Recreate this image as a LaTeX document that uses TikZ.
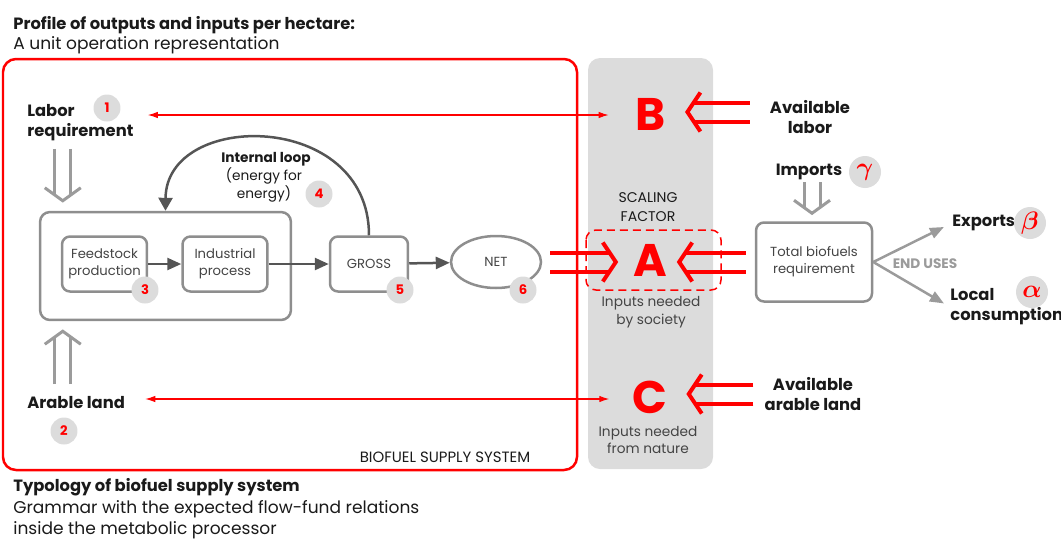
\documentclass[tikz,border=0pt]{standalone}
\usepackage{fontspec}
\setmainfont{Poppins}
\usetikzlibrary{arrows.meta,calc,shapes.geometric}
\definecolor{fr}{HTML}{FF0000}
\definecolor{edge}{HTML}{8E8E8E}
\definecolor{pale}{HTML}{DCDCDC}
\definecolor{flowgray}{HTML}{9B9B9B}
\definecolor{loopgray}{HTML}{555555}
\definecolor{ink}{HTML}{1A1A1A}
\definecolor{soft}{HTML}{444444}

\newcommand\twinflow[5]{%
  \draw[#1] ($(#2)!#4!90:(#3)$) -- ($(#3)!0.13cm!(#2)!#4!-90:(#2)$);
  \draw[#1] ($(#2)!#4!-90:(#3)$) -- ($(#3)!0.13cm!(#2)!#4!90:(#2)$);
  \draw[#1] ($(#3)!0.26cm!(#2)!#5!-90:(#2)$) -- (#3) -- ($(#3)!0.26cm!(#2)!#5!90:(#2)$);}

\begin{document}
\begin{tikzpicture}[x=0.02cm, y=-0.02cm,
  hd/.style={font=\fontsize{9.3}{11.4}\selectfont\bfseries, text=ink, inner sep=0},
  tx/.style={font=\fontsize{9.7}{11.4}\selectfont, text=ink, inner sep=0},
  sm/.style={font=\fontsize{7.8}{10.2}\selectfont, text=soft, inner sep=0, align=center},
  proc/.style={draw=edge, line width=0.05cm, rounded corners=0.16cm, inner sep=0, minimum width=1.7cm, minimum height=1.1cm, align=center, font=\fontsize{7.5}{9.8}\selectfont, text=soft},
  num/.style={circle, fill=pale, text=fr, inner sep=0, minimum size=0.54cm, font=\fontsize{7.5}{8}\selectfont\bfseries},
  grk/.style={circle, fill=pale, text=fr, inner sep=0, minimum size=0.64cm, font=\fontsize{15}{16}\selectfont\boldmath},
  big/.style={text=fr, inner sep=0, font=\fontsize{26}{26}\selectfont\bfseries},
  redlink/.style={draw=fr, line width=0.6pt, {Latex[length=0.2cm,width=0.13cm]}-{Latex[length=0.2cm,width=0.13cm]}},
  redtwin/.style={draw=fr, line width=0.08cm},
  graytwin/.style={draw=flowgray, line width=0.06cm},
  flow/.style={draw=loopgray, line width=0.05cm, -{Triangle[length=0.28cm,width=0.24cm]}},
  enduse/.style={draw=flowgray, line width=0.05cm, -{Triangle[length=0.28cm,width=0.22cm]}}]

\useasboundingbox (0,0) rectangle (1061,538);
\fill[pale, rounded corners=0.24cm] (588,58) rectangle (713,469);
\draw[fr, line width=0.05cm, rounded corners=0.26cm] (3,59) rectangle (577,470);
\draw[fr, line width=0.03cm, dash pattern=on 0.16cm off 0.1cm, rounded corners=0.2cm] (586,230) rectangle (721,290);

\node[hd, anchor=west] (t1) at (13,25) {Profile of outputs and inputs per hectare:};
\node[tx, anchor=west] (t2) at (13,45) {A unit operation representation};

\node[hd, align=left, anchor=west] (labor) at (27,123) {Labor\\requirement};
\node[num] (n1) at (107,108) {1};
\node[hd, anchor=west] (arable) at (27,403) {Arable land};
\node[num] (n2) at (64,431) {2};

\node[draw=edge, line width=0.05cm, rounded corners=0.2cm, minimum width=5.02cm, minimum height=2.16cm] (outer) at (165.5,266) {};
\node[proc] (feed) at (104.5,264) {Feedstock\\production};
\node[proc] (ind) at (225,264) {Industrial\\process};
\node[proc, minimum width=1.56cm] (gross) at (369,264) {GROSS};
\node[draw=edge, line width=0.05cm, ellipse, inner sep=0, minimum width=1.8cm, minimum height=1.04cm, font=\fontsize{7.5}{9.8}\selectfont, text=soft] (net) at (496,262) {NET};
\node[num] (n3) at (145,290) {3};
\node[num] (n5) at (400,290) {5};
\node[num] (n6) at (523,290) {6};

\node[font=\fontsize{7.8}{9}\selectfont\bfseries, text=ink, inner sep=0] (loop) at (266,159) {Internal loop};
\node[sm, text=ink] (loopnote) at (264,185) {(energy for\\energy)};
\node[num] (n4) at (319,194) {4};

\draw[flow] (feed) -- (ind);
\draw[flow] (ind) -- (gross);
\draw[flow] (gross) -- (net);
\draw[flow, -{Triangle[length=0.26cm,width=0.28cm]}] (gross.north) .. controls (369,110) and (166,110) .. (outer.north);

\coordinate (labtop) at ($(outer.north west)+(24,-62)$);
\coordinate (labtip) at ($(outer.north west)+(24,-10)$);
\twinflow{graytwin}{labtop}{labtip}{0.16cm}{0.36cm}
\coordinate (landbot) at ($(outer.south west)+(24,63)$);
\coordinate (landtip) at ($(outer.south west)+(24,10)$);
\twinflow{graytwin}{landbot}{landtip}{0.16cm}{0.36cm}

\node[big] (B) at (651,114) {B};
\node[font=\fontsize{8}{10.5}\selectfont, text=ink, align=center, inner sep=0] (scale) at (648,207) {SCALING\\FACTOR};
\node[big] (A) at (650,260) {A};
\node[sm] (society) at (651,312) {Inputs needed\\by society};
\node[big] (C) at (650,397) {C};
\node[sm] (nature) at (648,440) {Inputs needed\\from nature};

\coordinate (labend) at ($(n1.east)+(27,7)$);
\draw[redlink, shorten >=0.54cm] (labend) -- (labend -| B.west);
\coordinate (landend) at ($(arable.east)+(20,-4)$);
\draw[redlink, shorten >=0.46cm] (landend) -- (landend -| C.west);

\node[hd, align=center] (avlabor) at (810,117) {Available\\labor};
\node[hd, align=center] (avland) at (813,394) {Available\\arable land};
\node[hd] (imports) at (809,172) {Imports};
\node[grk] (gam) at (865,172) {$\gamma$};
\node[proc, minimum width=2.32cm, minimum height=1.58cm] (total) at (814,262) {Total biofuels\\requirement};
\node[font=\fontsize{7.8}{9}\selectfont\bfseries, text=flowgray, inner sep=0] (enduses) at (925,264) {END USES};
\node[hd, anchor=west] (exports) at (952,223) {Exports};
\node[grk] (bet) at (1030,223) {$\beta$};
\node[hd, align=left, anchor=west] (local) at (950,307) {Local\\consumption};
\node[grk] (alp) at (1032,292) {$\alpha$};

\draw[enduse, shorten >=0.18cm] (total.east) -- (exports.west);
\draw[enduse, shorten >=0.14cm] (total.east) -- (local.west);
\coordinate (imptop) at ($(total.north)+(-2,-39)$);
\coordinate (imptip) at ($(total.north)+(-2,-8)$);
\twinflow{graytwin}{imptop}{imptip}{0.16cm}{0.36cm}

\coordinate (bfrom) at ($(avlabor.west |- B)+(-20,-2)$);
\coordinate (bto) at ($(B.east)+(21,-2)$);
\twinflow{redtwin}{bfrom}{bto}{0.19cm}{0.39cm}
\coordinate (afrom) at ($(net.east)+(8,0)$);
\coordinate (ato) at ($(afrom -| A.west)+(-17,0)$);
\twinflow{redtwin}{afrom}{ato}{0.19cm}{0.39cm}
\coordinate (arfrom) at ($(total.west)+(-9,0)$);
\coordinate (arto) at ($(arfrom -| A.east)+(12,0)$);
\twinflow{redtwin}{arfrom}{arto}{0.19cm}{0.39cm}
\coordinate (cfrom) at ($(avland.west |- C)+(-11,-3)$);
\coordinate (cto) at ($(cfrom -| C.east)+(21,0)$);
\twinflow{redtwin}{cfrom}{cto}{0.19cm}{0.39cm}

\node[font=\fontsize{8.5}{10}\selectfont, text=ink, inner sep=0] (bss) at (445,457) {BIOFUEL SUPPLY SYSTEM};
\node[hd, anchor=west] (t3) at (13,487) {Typology of biofuel supply system};
\node[tx, anchor=west] (t4) at (13,509) {Grammar with the expected flow-fund relations};
\node[tx, anchor=west] (t5) at (13,530) {inside the metabolic processor};
\end{tikzpicture}
\end{document}
